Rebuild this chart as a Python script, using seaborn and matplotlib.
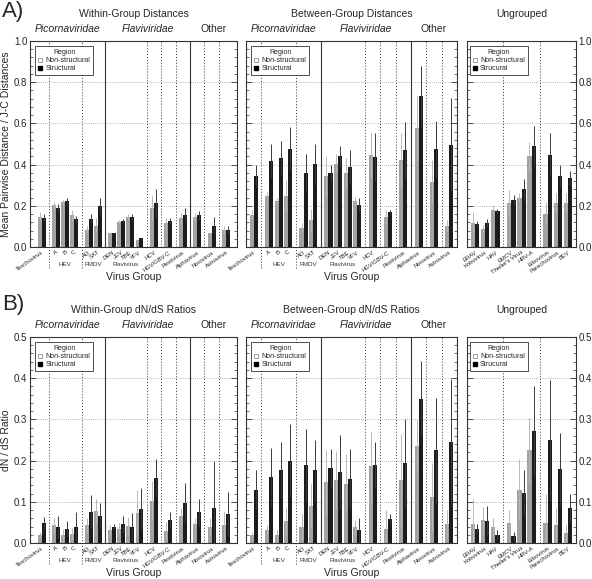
import pandas as pd
import matplotlib
matplotlib.use("Agg")
import matplotlib.pyplot as plt
from matplotlib.lines import Line2D
from matplotlib.ticker import AutoMinorLocator, MultipleLocator, FormatStrFormatter
import seaborn as sns

# categories
grouped_cats = ["Teschovirus", "A", "B", "C", "AO", "SAT", "DEN", "JEV", "TBE", "YFV",
                "HCV", "HGV/GBV-C", "Pestivirus", "Alphavirus", "Norovirus", "Astrovirus"]
grouped_ids = [0, 1, 1, 1, 2, 2, 3, 3, 3, 3, 4, 5, 6, 7, 8, 9]
grouped_family = ["Picornaviridae"] * 6 + ["Flaviviridae"] * 7 + ["Other"] * 3
grouped_group_names = {1: "HEV", 2: "FMDV", 3: "Flavivirus"}

ungrouped_cats = ["ERAV", "Kobuvirus", "HAV", "EMCV", "Theiler's Virus", "HRV-A",
                  "Erbovirus", "Parechovirus", "BEV"]
ungrouped_ids = [0, 0, 0, 1, 1, 1, 2, 2, 2]

regions = ["Non-structural", "Structural"]

# A) J-C distances: bar value and top of error bar
within_dist_ns = [0.146, 0.202, 0.218, 0.154, 0.084, 0.104, 0.070, 0.121, 0.146, 0.036, 0.190, 0.117, 0.139, 0.146, 0.070, 0.084]
within_dist_s = [0.142, 0.190, 0.222, 0.134, 0.138, 0.200, 0.066, 0.125, 0.146, 0.042, 0.214, 0.125, 0.157, 0.154, 0.104, 0.081]
within_dist_ns_hi = [0.170, 0.220, 0.230, 0.180, 0.100, 0.140, 0.075, 0.130, 0.160, 0.040, 0.250, 0.140, 0.165, 0.165, 0.075, 0.100]
within_dist_s_hi = [0.160, 0.210, 0.240, 0.150, 0.160, 0.240, 0.070, 0.135, 0.160, 0.045, 0.280, 0.140, 0.190, 0.175, 0.145, 0.100]

between_dist_ns = [0.154, 0.246, 0.222, 0.250, 0.094, 0.129, 0.343, 0.405, 0.361, 0.222, 0.445, 0.146, 0.420, 0.576, 0.316, 0.104]
between_dist_s = [0.345, 0.416, 0.432, 0.477, 0.361, 0.401, 0.361, 0.440, 0.388, 0.205, 0.437, 0.170, 0.469, 0.731, 0.474, 0.497]
between_dist_ns_hi = [0.180, 0.267, 0.240, 0.324, 0.117, 0.186, 0.440, 0.450, 0.434, 0.243, 0.553, 0.178, 0.555, 0.736, 0.420, 0.130]
between_dist_s_hi = [0.400, 0.498, 0.513, 0.583, 0.450, 0.502, 0.400, 0.490, 0.469, 0.238, 0.553, 0.181, 0.605, 0.880, 0.610, 0.723]

ungrouped_dist_ns = [0.117, 0.089, 0.181, 0.215, 0.239, 0.440, 0.162, 0.215, 0.215]
ungrouped_dist_s = [0.110, 0.117, 0.173, 0.230, 0.280, 0.490, 0.448, 0.345, 0.335]
ungrouped_dist_ns_hi = [0.168, 0.105, 0.202, 0.275, 0.260, 0.510, 0.218, 0.260, 0.260]
ungrouped_dist_s_hi = [0.126, 0.138, 0.186, 0.254, 0.328, 0.587, 0.553, 0.400, 0.370]

# B) dN/dS ratios
within_dnds_ns = [0.019, 0.043, 0.019, 0.023, 0.043, 0.077, 0.032, 0.035, 0.041, 0.074, 0.102, 0.029, 0.065, 0.047, 0.040, 0.043]
within_dnds_s = [0.049, 0.039, 0.034, 0.040, 0.076, 0.066, 0.040, 0.045, 0.039, 0.083, 0.158, 0.057, 0.098, 0.075, 0.085, 0.071]
within_dnds_ns_hi = [0.027, 0.061, 0.035, 0.037, 0.060, 0.108, 0.043, 0.049, 0.063, 0.128, 0.150, 0.051, 0.086, 0.060, 0.060, 0.077]
within_dnds_s_hi = [0.063, 0.065, 0.053, 0.075, 0.116, 0.097, 0.045, 0.065, 0.073, 0.134, 0.205, 0.075, 0.146, 0.108, 0.198, 0.125]

between_dnds_ns = [0.019, 0.032, 0.019, 0.053, 0.040, 0.089, 0.147, 0.152, 0.144, 0.039, 0.186, 0.033, 0.152, 0.235, 0.112, 0.047]
between_dnds_s = [0.129, 0.159, 0.176, 0.200, 0.189, 0.176, 0.182, 0.172, 0.156, 0.031, 0.189, 0.059, 0.195, 0.350, 0.225, 0.245]
between_dnds_ns_hi = [0.027, 0.043, 0.031, 0.087, 0.071, 0.142, 0.225, 0.223, 0.215, 0.057, 0.272, 0.081, 0.264, 0.300, 0.194, 0.081]
between_dnds_s_hi = [0.176, 0.231, 0.245, 0.288, 0.276, 0.249, 0.227, 0.261, 0.227, 0.061, 0.245, 0.071, 0.302, 0.441, 0.352, 0.399]

ungrouped_dnds_ns = [0.045, 0.055, 0.040, 0.049, 0.129, 0.225, 0.049, 0.043, 0.024]
ungrouped_dnds_s = [0.035, 0.053, 0.019, 0.016, 0.121, 0.272, 0.249, 0.180, 0.085]
ungrouped_dnds_ns_hi = [0.106, 0.087, 0.061, 0.079, 0.205, 0.304, 0.120, 0.087, 0.047]
ungrouped_dnds_s_hi = [0.045, 0.090, 0.031, 0.027, 0.176, 0.380, 0.395, 0.267, 0.120]

GAP = 0.6
bar_colors = {"Non-structural": "#a2a2a2", "Structural": "#1c1c1c"}
err_colors = {"Non-structural": "#b8b8b8", "Structural": "#3a3a3a"}

sns.set_theme(style="white")
plt.rcParams["font.family"] = ["Liberation Sans", "DejaVu Sans"]


def draw_panel(ax, cats, ids, ns, s, ns_hi, s_hi, ymax, step, title,
               families=None, group_names=None, struct_label="Structural",
               ylabel=None, side="left", xlabel=True):
    pos = [i + GAP * g for i, g in enumerate(ids)]
    df = pd.DataFrame({
        "pos": pos * 2,
        "Region": [regions[0]] * len(cats) + [regions[1]] * len(cats),
        "value": list(ns) + list(s),
        "hi": list(ns_hi) + list(s_hi),
    })
    sns.barplot(data=df, x="pos", y="value", hue="Region", hue_order=regions,
                palette=bar_colors, native_scale=True, width=0.85, errorbar=None,
                legend=False, linewidth=0, ax=ax)

    # error bars at the bar centres seaborn produced
    bars = sorted([p for p in ax.patches if p.get_height() > 0], key=lambda p: p.get_x())
    ordered = df.assign(r=df["Region"].map(regions.index)).sort_values(["pos", "r"])
    for bar, (_, row) in zip(bars, ordered.iterrows()):
        cx = bar.get_x() + bar.get_width() / 2
        ax.errorbar(cx, row["value"], yerr=row["hi"] - row["value"],
                    color=err_colors[row["Region"]], lw=0.7, capsize=0, zorder=3)

    if side == "left":
        lo, hi = pos[0] - 1.3, pos[-1] + 1.2
    else:
        lo, hi = pos[0] - 0.8, pos[-1] + 0.8
    ax.set_xlim(lo, hi)
    ax.set_ylim(0, ymax)

    # group dividers
    xt = ax.get_xaxis_transform()
    bounds = []
    for i in range(1, len(cats)):
        if ids[i] != ids[i - 1]:
            x = (pos[i - 1] + pos[i]) / 2
            bounds.append((i, x))
            if families is not None and families[i] != families[i - 1]:
                ax.axvline(x, color="#333333", lw=0.8, zorder=1)
            else:
                ylo = -0.1 if families is not None and families[i] == "Picornaviridae" else 0
                ax.plot([x, x], [ylo, 1], transform=xt, color="#333333", lw=0.7,
                        ls=(0, (1, 2)), clip_on=False, zorder=1)

    # group labels below the tick labels
    if group_names:
        for g, name in group_names.items():
            members = [p for p, k in zip(pos, ids) if k == g]
            ax.text(sum(members) / len(members), -0.087, name, transform=xt,
                    ha="center", va="center", fontsize=4.5, color="#333333")

    # family labels above the axes
    if families is not None:
        fam_order = list(dict.fromkeys(families))
        fam_edges = [lo] + [x for i, x in bounds if families[i] != families[i - 1]] + [hi]
        for k, fam in enumerate(fam_order):
            ax.text((fam_edges[k] + fam_edges[k + 1]) / 2, 1.058, fam, transform=xt,
                    ha="center", va="center", fontsize=7.5,
                    style="normal" if fam == "Other" else "italic")

    ax.text(0.5, 1.131, title, transform=ax.transAxes, ha="center", va="center", fontsize=7.5)

    ax.set_xticks(pos)
    ax.set_xticklabels(cats, rotation=35, ha="right", rotation_mode="anchor",
                       fontsize=4.2, color="#222222")
    ax.tick_params(axis="x", length=0, pad=2)
    ax.set_xlabel("")
    if xlabel:
        ax.text(0.5, -0.146, "Virus Group", transform=ax.transAxes, ha="center",
                va="center", fontsize=7.5)

    ax.yaxis.set_major_locator(MultipleLocator(step))
    ax.yaxis.set_minor_locator(AutoMinorLocator(5))
    ax.yaxis.set_major_formatter(FormatStrFormatter("%.1f"))
    ax.tick_params(axis="y", which="both", direction="in", left=True, right=True,
                   labelleft=(side == "left"), labelright=(side == "right"),
                   labelsize=7, pad=2, color="#333333")
    ax.tick_params(axis="y", which="major", length=4, width=0.6)
    ax.tick_params(axis="y", which="minor", length=2, width=0.5)
    ax.yaxis.grid(True, which="major", ls=(0, (1, 1.5)), color="#a0a0a0", lw=0.6)
    ax.set_axisbelow(True)
    if ylabel:
        ax.set_ylabel(ylabel, fontsize=7.5, labelpad=2)
    else:
        ax.set_ylabel("")
    for sp in ax.spines.values():
        sp.set_color("#333333")
        sp.set_linewidth(0.8)

    handles = [
        Line2D([], [], marker="s", ls="", markerfacecolor="white", markeredgecolor="#777777",
               markeredgewidth=0.5, markersize=2.5, label="Non-structural"),
        Line2D([], [], marker="s", ls="", color="black", markersize=2.5, label=struct_label),
    ]
    leg = ax.legend(handles=handles, title="Region", loc="upper left",
                    bbox_to_anchor=(0.025, 0.975), fontsize=5, title_fontsize=5,
                    frameon=True, fancybox=False, edgecolor="#333333", framealpha=1,
                    handlelength=0.7, handletextpad=0.4, borderpad=0.4,
                    labelspacing=0.15, borderaxespad=0)
    leg.get_frame().set_linewidth(0.6)


fig = plt.figure(figsize=(5.92, 5.79), dpi=100)
W, H = 592.0, 579.0
cols = [(30, 237), (246, 457), (467, 576)]
rows = [(41, 247), (337, 543)]


def make_axes(c, r):
    x0, x1 = cols[c]
    y0, y1 = rows[r]
    return fig.add_axes([x0 / W, 1 - y1 / H, (x1 - x0) / W, (y1 - y0) / H])


ax = make_axes(0, 0)
draw_panel(ax, grouped_cats, grouped_ids, within_dist_ns, within_dist_s,
           within_dist_ns_hi, within_dist_s_hi, 1.0, 0.2, "Within-Group Distances",
           families=grouped_family, group_names=grouped_group_names,
           ylabel="Mean Pairwise Distance / J-C Distances")
ax = make_axes(1, 0)
draw_panel(ax, grouped_cats, grouped_ids, between_dist_ns, between_dist_s,
           between_dist_ns_hi, between_dist_s_hi, 1.0, 0.2, "Between-Group Distances",
           families=grouped_family, group_names=grouped_group_names, side="none")
ax = make_axes(2, 0)
draw_panel(ax, ungrouped_cats, ungrouped_ids, ungrouped_dist_ns, ungrouped_dist_s,
           ungrouped_dist_ns_hi, ungrouped_dist_s_hi, 1.0, 0.2, "Ungrouped",
           struct_label="Strucural", side="right", xlabel=False)

ax = make_axes(0, 1)
draw_panel(ax, grouped_cats, grouped_ids, within_dnds_ns, within_dnds_s,
           within_dnds_ns_hi, within_dnds_s_hi, 0.5, 0.1, "Within-Group dN/dS Ratios",
           families=grouped_family, group_names=grouped_group_names,
           ylabel="dN / dS Ratio")
ax = make_axes(1, 1)
draw_panel(ax, grouped_cats, grouped_ids, between_dnds_ns, between_dnds_s,
           between_dnds_ns_hi, between_dnds_s_hi, 0.5, 0.1, "Between-Group dN/dS Ratios",
           families=grouped_family, group_names=grouped_group_names, side="none")
ax = make_axes(2, 1)
draw_panel(ax, ungrouped_cats, ungrouped_ids, ungrouped_dnds_ns, ungrouped_dnds_s,
           ungrouped_dnds_ns_hi, ungrouped_dnds_s_hi, 0.5, 0.1, "Ungrouped",
           struct_label="Strucural", side="right", xlabel=False)

fig.text(0.004, 0.998, "A)", fontsize=16, va="top", ha="left")
fig.text(0.004, 1 - 294 / H, "B)", fontsize=16, va="top", ha="left")

fig.savefig("out.png", dpi=100)
